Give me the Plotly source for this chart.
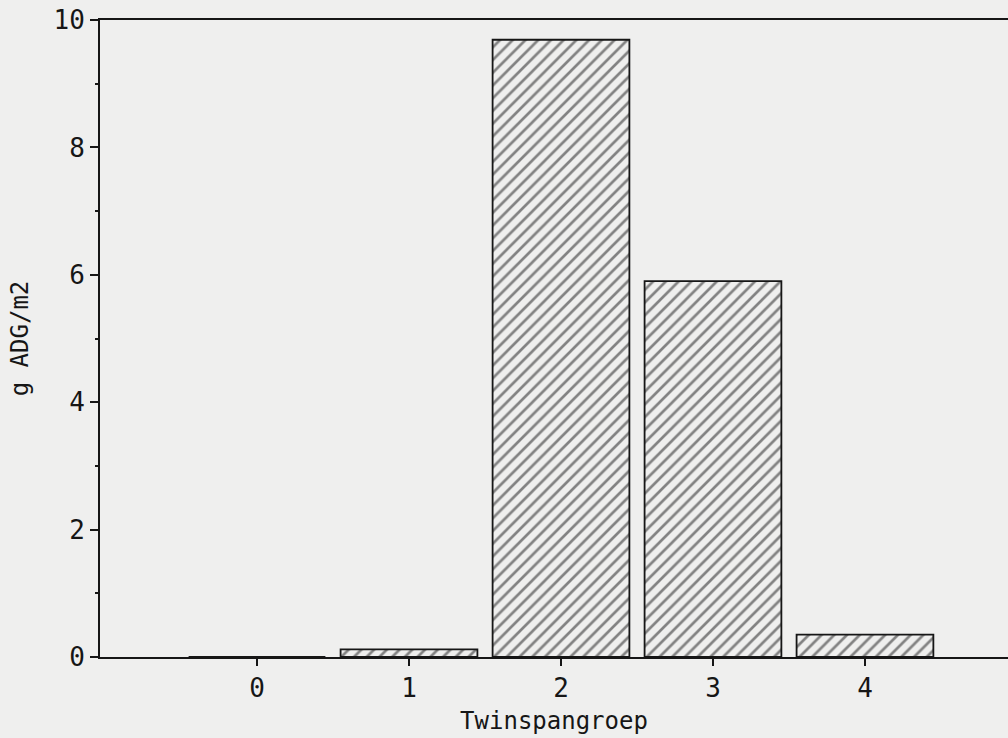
import plotly.graph_objects as go

# Twinspan groups and biomass (g ADG per m2)
groups = [0, 1, 2, 3, 4]
biomass = [0.0, 0.12, 9.69, 5.9, 0.35]

x_ticks = [0, 1, 2, 3, 4]
x_tick_labels = ["0", "1", "2", "3", "4"]
y_ticks = [0, 2, 4, 6, 8, 10]
y_tick_labels = ["0", "2", "4", "6", "8", "10"]

ink = "#161616"
paper = "#efefee"
font_family = "DejaVu Sans Mono"

fig = go.Figure()
fig.add_trace(go.Bar(
    x=groups,
    y=biomass,
    width=0.9,
    marker=dict(
        color=paper,
        line=dict(color=ink, width=1.8),
        pattern=dict(shape="/", size=9, solidity=0.3, fgcolor=ink, bgcolor=paper),
    ),
    showlegend=False,
))

fig.update_layout(
    width=1008,
    height=738,
    margin=dict(l=100, r=0, t=20, b=81),
    paper_bgcolor=paper,
    plot_bgcolor=paper,
    font=dict(family=font_family, color=ink, size=24),
    bargap=0.1,
)

fig.update_xaxes(
    range=[-1.033, 4.941],
    tickvals=x_ticks,
    ticktext=x_tick_labels,
    ticks="outside",
    ticklen=7,
    tickwidth=2,
    tickcolor=ink,
    showline=True,
    linecolor=ink,
    linewidth=2,
    mirror=True,
    showgrid=False,
    zeroline=False,
    tickfont=dict(size=26),
    title=dict(text="Twinspangroep", font=dict(size=24), standoff=10),
)

fig.update_yaxes(
    range=[0, 10],
    tickvals=y_ticks,
    ticktext=y_tick_labels,
    ticks="outside",
    ticklen=8,
    tickwidth=2,
    tickcolor=ink,
    minor=dict(tickvals=[1, 3, 5, 7, 9], ticks="outside", ticklen=3, tickwidth=2, tickcolor=ink),
    showline=True,
    linecolor=ink,
    linewidth=2,
    showgrid=False,
    zeroline=False,
    tickfont=dict(size=26),
    title=dict(text="g ADG/m2", font=dict(size=24), standoff=18),
)

fig.write_html("out.html")
